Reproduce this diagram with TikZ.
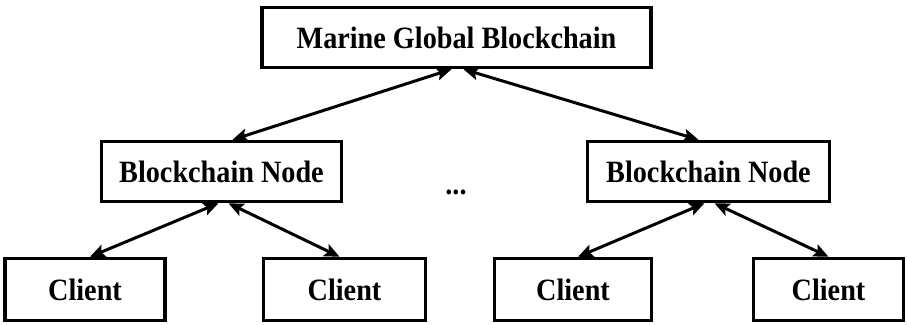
\documentclass[tikz,border=0pt]{standalone}
\usepackage{fontspec}
\setmainfont{Liberation Serif}[FakeStretch=0.91]
\usetikzlibrary{arrows.meta}
\tikzset{
  box/.style={draw, line width=3.5pt, fill=white, inner sep=0pt,
    font=\fontsize{31}{34}\selectfont\bfseries},
  link/.style={line width=3pt, {Stealth[length=15pt,width=13pt,inset=3pt]}-{Stealth[length=15pt,width=13pt,inset=3pt]}}
}
\begin{document}
\begin{tikzpicture}[x=1pt,y=-1pt]
\useasboundingbox (0,0) rectangle (907,324);
% top level
\node[box, minimum width=389pt, minimum height=60pt] (top) at (456.5,37.5) {Marine Global Blockchain};
% blockchain nodes
\node[box, minimum width=240pt, minimum height=60pt] (bnl) at (221.5,171.5) {Blockchain Node};
\node[box, minimum width=242pt, minimum height=60pt] (bnr) at (708.5,171.5) {Blockchain Node};
\node[font=\fontsize{31}{34}\selectfont\bfseries] (dots) at (456,192) {...};
% clients
\node[box, minimum width=160pt, minimum height=62pt] (c1) at (85,289.5) {Client};
\node[box, minimum width=162pt, minimum height=62pt] (c2) at (344.5,289.5) {Client};
\node[box, minimum width=157pt, minimum height=62pt] (c3) at (573,289.5) {Client};
\node[box, minimum width=150pt, minimum height=62pt] (c4) at (828.5,289.5) {Client};
% links
\draw[link] ([xshift=-5pt]top.south) -- ([xshift=11pt]bnl.north);
\draw[link] ([xshift=7pt]top.south) -- ([xshift=-10pt]bnr.north);
\draw[link] ([xshift=-3pt]bnl.south) -- ([xshift=5pt]c1.north);
\draw[link] ([xshift=7pt]bnl.south) -- ([xshift=-5pt]c2.north);
\draw[link] ([xshift=-4pt]bnr.south) -- ([xshift=5pt]c3.north);
\draw[link] ([xshift=6pt]bnr.south) -- (c4.north);
\end{tikzpicture}
\end{document}
